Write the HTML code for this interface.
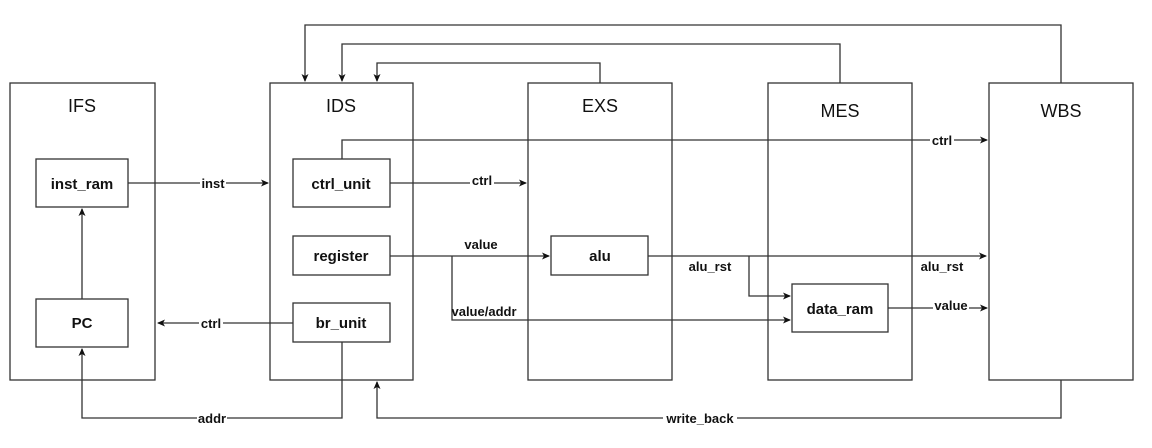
<!DOCTYPE html>
<html><head><meta charset="utf-8"><style>
html,body{margin:0;padding:0;background:#fff;}
svg{display:block;}
text{font-family:"Liberation Sans",Arial,sans-serif;fill:#111;}
.st{font-size:18px;}
.bx{font-size:15px;font-weight:bold;}
.lb{font-size:13px;font-weight:bold;}
</style></head><body>
<svg width="1152" height="448" viewBox="0 0 1152 448" xmlns="http://www.w3.org/2000/svg">
<defs><marker id="a" markerWidth="8" markerHeight="8" refX="7" refY="4" orient="auto" markerUnits="userSpaceOnUse"><path d="M0,0.5 L8,4 L0,7.5 L2,4 Z" fill="#111"/></marker></defs>
<g fill="#fff" stroke="#333" stroke-width="1.3">
<rect x="10" y="83" width="145" height="297"/>
<rect x="270" y="83" width="143" height="297"/>
<rect x="528" y="83" width="144" height="297"/>
<rect x="768" y="83" width="144" height="297"/>
<rect x="989" y="83" width="144" height="297"/>
</g>
<g fill="none" stroke="#333" stroke-width="1.3">
<polyline points="1061,83 1061,25 305,25 305,81" marker-end="url(#a)"/>
<polyline points="840,83 840,44 342,44 342,81" marker-end="url(#a)"/>
<polyline points="600,83 600,63 377,63 377,81" marker-end="url(#a)"/>
<polyline points="342,159 342,140 987,140" marker-end="url(#a)"/>
<line x1="128" y1="183" x2="268" y2="183" marker-end="url(#a)"/>
<line x1="390" y1="183" x2="526" y2="183" marker-end="url(#a)"/>
<line x1="390" y1="256" x2="549" y2="256" marker-end="url(#a)"/>
<polyline points="452,256 452,320 790,320" marker-end="url(#a)"/>
<line x1="648" y1="256" x2="986" y2="256" marker-end="url(#a)"/>
<polyline points="749,256 749,296 790,296" marker-end="url(#a)"/>
<line x1="888" y1="308" x2="987" y2="308" marker-end="url(#a)"/>
<line x1="293" y1="323" x2="158" y2="323" marker-end="url(#a)"/>
<polyline points="342,342 342,418 82,418 82,349" marker-end="url(#a)"/>
<line x1="82" y1="299" x2="82" y2="209" marker-end="url(#a)"/>
<polyline points="1061,380 1061,418 377,418 377,382" marker-end="url(#a)"/>
</g>
<g fill="#fff" stroke="#333" stroke-width="1.3">
<rect x="36" y="159" width="92" height="48"/>
<rect x="36" y="299" width="92" height="48"/>
<rect x="293" y="159" width="97" height="48"/>
<rect x="293" y="236" width="97" height="39"/>
<rect x="293" y="303" width="97" height="39"/>
<rect x="551" y="236" width="97" height="39"/>
<rect x="792" y="284" width="96" height="48"/>
</g>
<g text-anchor="middle">
<text class="st" x="82" y="112">IFS</text>
<text class="st" x="341" y="112">IDS</text>
<text class="st" x="600" y="112">EXS</text>
<text class="st" x="840" y="117">MES</text>
<text class="st" x="1061" y="117">WBS</text>
<text class="bx" x="82" y="189">inst_ram</text>
<text class="bx" x="82" y="328">PC</text>
<text class="bx" x="341" y="189">ctrl_unit</text>
<text class="bx" x="341" y="261">register</text>
<text class="bx" x="341" y="328">br_unit</text>
<text class="bx" x="600" y="261">alu</text>
<text class="bx" x="840" y="314">data_ram</text>
</g>
<g text-anchor="middle">
<rect x="200" y="176" width="26" height="14" fill="#fff"/><text class="lb" x="213" y="188">inst</text>
<rect x="470" y="174" width="24" height="14" fill="#fff"/><text class="lb" x="482" y="185">ctrl</text>
<rect x="930" y="133" width="24" height="14" fill="#fff"/><text class="lb" x="942" y="145">ctrl</text>
<text class="lb" x="481" y="249">value</text>
<text class="lb" x="484" y="316">value/addr</text>
<text class="lb" x="710" y="271">alu_rst</text>
<text class="lb" x="942" y="271">alu_rst</text>
<rect x="933" y="301" width="36" height="14" fill="#fff"/><text class="lb" x="951" y="310">value</text>
<rect x="199" y="316" width="24" height="14" fill="#fff"/><text class="lb" x="211" y="328">ctrl</text>
<rect x="197" y="411" width="30" height="14" fill="#fff"/><text class="lb" x="212" y="423">addr</text>
<rect x="663" y="411" width="74" height="14" fill="#fff"/><text class="lb" x="700" y="423">write_back</text>
</g>
</svg>
</body></html>
